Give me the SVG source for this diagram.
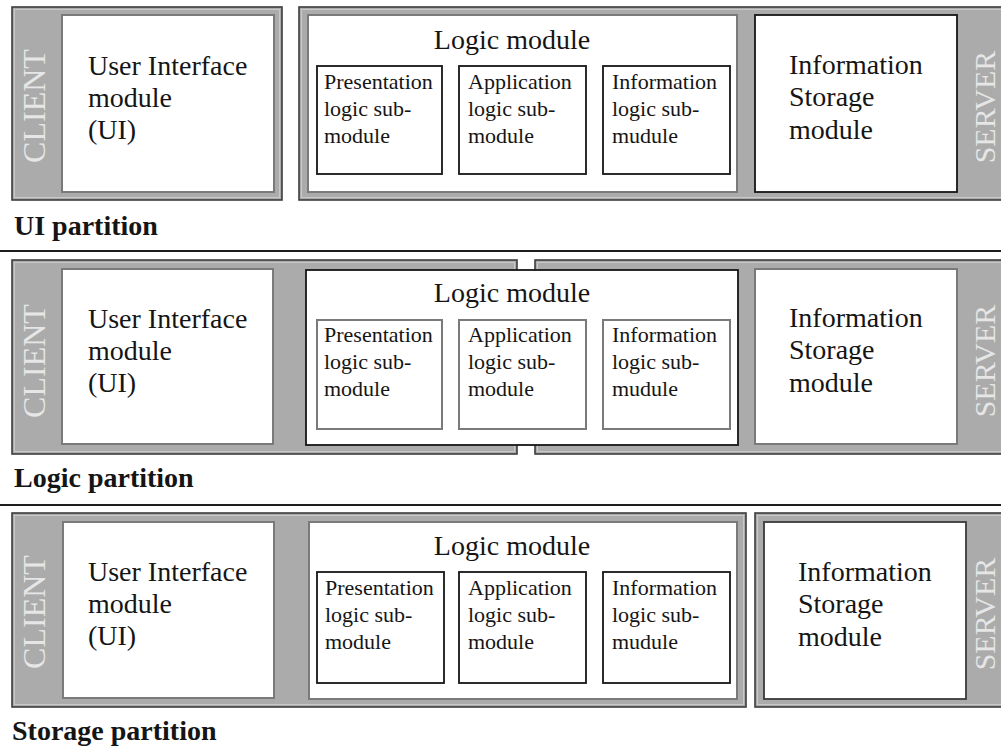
<svg xmlns="http://www.w3.org/2000/svg" width="1001" height="749" viewBox="0 0 1001 749">
  <style>
    .tier { fill: #ababab; stroke: #3c3c3c; stroke-width: 1.6; }
    .tier-hi { fill: none; stroke: #c9c9c9; stroke-width: 1; }
    .box-lt { fill: #ffffff; stroke: #7a7a7a; stroke-width: 2; }
    .box-dk { fill: #ffffff; stroke: #161616; stroke-width: 1.8; }
    .box-md { fill: #ffffff; stroke: #3a3a3a; stroke-width: 1.8; }
    .main { font-family: "Liberation Serif", "Times New Roman", serif; font-size: 28px; fill: #151515; }
    .sub { font-family: "Liberation Serif", "Times New Roman", serif; font-size: 22px; fill: #151515; }
    .side { font-family: "Liberation Serif", "Times New Roman", serif; font-size: 32px; fill: #e6e6e6; text-anchor: middle; }
    .side-r { font-family: "Liberation Serif", "Times New Roman", serif; font-size: 30px; fill: #e6e6e6; text-anchor: middle; }
    .label { font-family: "Liberation Serif", "Times New Roman", serif; font-size: 28px; font-weight: bold; fill: #151515; }
    .rule { stroke: #1e1e1e; stroke-width: 2; }
  </style>

  <!-- ===== UI partition ===== -->
  <g id="ui-partition">
    <g id="p1-client-tier">
      <rect class="tier" x="12" y="7" width="270" height="193"/>
      <rect class="tier-hi" x="14.5" y="9.5" width="265" height="188"/>
      <text class="side" transform="translate(45,106) rotate(-90)">CLIENT</text>
    </g>
    <g id="p1-server-tier">
      <rect class="tier" x="299" y="7" width="704" height="193"/>
      <rect class="tier-hi" x="301.5" y="9.5" width="700" height="188"/>
      <text class="side-r" transform="translate(995,107) rotate(-90)">SERVER</text>
    </g>
    <g id="p1-ui">
      <rect class="box-lt" x="62" y="15" width="212" height="177"/>
      <text class="main"><tspan x="88" y="75">User Interface</tspan><tspan x="88" y="107">module</tspan><tspan x="88" y="139">(UI)</tspan></text>
    </g>
    <g id="p1-logic">
      <rect class="box-lt" x="308" y="15" width="429" height="177"/>
      <text class="main" x="512" y="49" text-anchor="middle">Logic module</text>
    </g>
    <g id="p1-presentation">
      <rect class="box-dk" x="317" y="66" width="125" height="108"/>
      <text class="sub"><tspan x="324" y="89">Presentation</tspan><tspan x="324" y="116">logic sub-</tspan><tspan x="324" y="143">module</tspan></text>
    </g>
    <g id="p1-application">
      <rect class="box-dk" x="459" y="66" width="127" height="108"/>
      <text class="sub"><tspan x="468" y="89">Application</tspan><tspan x="468" y="116">logic sub-</tspan><tspan x="468" y="143">module</tspan></text>
    </g>
    <g id="p1-information">
      <rect class="box-dk" x="603" y="66" width="127" height="108"/>
      <text class="sub"><tspan x="612" y="89">Information</tspan><tspan x="612" y="116">logic sub-</tspan><tspan x="612" y="143">mudule</tspan></text>
    </g>
    <g id="p1-storage">
      <rect class="box-dk" x="755" y="15" width="202" height="177"/>
      <text class="main"><tspan x="789" y="74">Information</tspan><tspan x="789" y="106">Storage</tspan><tspan x="789" y="139">module</tspan></text>
    </g>
    <text class="label" x="14" y="235">UI partition</text>
  </g>

  <!-- ===== Logic partition ===== -->
  <g id="logic-partition">
    <g id="p2-client-tier">
      <rect class="tier" x="12" y="260" width="505" height="194"/>
      <rect class="tier-hi" x="14.5" y="262.5" width="500" height="189"/>
      <text class="side" transform="translate(45,361) rotate(-90)">CLIENT</text>
    </g>
    <g id="p2-server-tier">
      <rect class="tier" x="535" y="260" width="468" height="194"/>
      <rect class="tier-hi" x="537.5" y="262.5" width="464" height="189"/>
      <text class="side-r" transform="translate(995,361) rotate(-90)">SERVER</text>
    </g>
    <g id="p2-ui">
      <rect class="box-lt" x="62" y="269" width="211" height="175"/>
      <text class="main"><tspan x="88" y="328">User Interface</tspan><tspan x="88" y="360">module</tspan><tspan x="88" y="392">(UI)</tspan></text>
    </g>
    <g id="p2-logic">
      <rect class="box-dk" x="306" y="270" width="432" height="175"/>
      <text class="main" x="512" y="302" text-anchor="middle">Logic module</text>
    </g>
    <g id="p2-presentation">
      <rect class="box-lt" x="317" y="320" width="125" height="109"/>
      <text class="sub"><tspan x="324" y="342">Presentation</tspan><tspan x="324" y="369">logic sub-</tspan><tspan x="324" y="396">module</tspan></text>
    </g>
    <g id="p2-application">
      <rect class="box-lt" x="459" y="320" width="127" height="109"/>
      <text class="sub"><tspan x="468" y="342">Application</tspan><tspan x="468" y="369">logic sub-</tspan><tspan x="468" y="396">module</tspan></text>
    </g>
    <g id="p2-information">
      <rect class="box-lt" x="603" y="320" width="127" height="109"/>
      <text class="sub"><tspan x="612" y="342">Information</tspan><tspan x="612" y="369">logic sub-</tspan><tspan x="612" y="396">mudule</tspan></text>
    </g>
    <g id="p2-storage">
      <rect class="box-lt" x="755" y="269" width="202" height="175"/>
      <text class="main"><tspan x="789" y="327">Information</tspan><tspan x="789" y="359">Storage</tspan><tspan x="789" y="392">module</tspan></text>
    </g>
    <text class="label" x="14" y="487">Logic partition</text>
  </g>

  <!-- ===== Storage partition ===== -->
  <g id="storage-partition">
    <g id="p3-client-tier">
      <rect class="tier" x="12" y="513" width="734" height="194"/>
      <rect class="tier-hi" x="14.5" y="515.5" width="729" height="189"/>
      <text class="side" transform="translate(45,612) rotate(-90)">CLIENT</text>
    </g>
    <g id="p3-server-tier">
      <rect class="tier" x="755" y="513" width="248" height="194"/>
      <rect class="tier-hi" x="757.5" y="515.5" width="244" height="189"/>
      <text class="side-r" transform="translate(995,614) rotate(-90)">SERVER</text>
    </g>
    <g id="p3-ui">
      <rect class="box-lt" x="63" y="522" width="211" height="176"/>
      <text class="main"><tspan x="88" y="581">User Interface</tspan><tspan x="88" y="613">module</tspan><tspan x="88" y="645">(UI)</tspan></text>
    </g>
    <g id="p3-logic">
      <rect class="box-lt" x="309" y="522" width="428" height="177"/>
      <text class="main" x="512" y="555" text-anchor="middle">Logic module</text>
    </g>
    <g id="p3-presentation">
      <rect class="box-dk" x="317" y="572" width="127" height="111"/>
      <text class="sub"><tspan x="325" y="595">Presentation</tspan><tspan x="325" y="622">logic sub-</tspan><tspan x="325" y="649">module</tspan></text>
    </g>
    <g id="p3-application">
      <rect class="box-dk" x="459" y="572" width="127" height="111"/>
      <text class="sub"><tspan x="468" y="595">Application</tspan><tspan x="468" y="622">logic sub-</tspan><tspan x="468" y="649">module</tspan></text>
    </g>
    <g id="p3-information">
      <rect class="box-dk" x="603" y="572" width="127" height="111"/>
      <text class="sub"><tspan x="612" y="595">Information</tspan><tspan x="612" y="622">logic sub-</tspan><tspan x="612" y="649">mudule</tspan></text>
    </g>
    <g id="p3-storage">
      <rect class="box-md" x="764" y="522" width="202" height="177"/>
      <text class="main"><tspan x="798" y="581">Information</tspan><tspan x="798" y="613">Storage</tspan><tspan x="798" y="646">module</tspan></text>
    </g>
    <text class="label" x="12" y="740">Storage partition</text>
  </g>

  <!-- partition dividers -->
  <g id="connectors">
    <line class="rule" x1="0" y1="251" x2="1001" y2="251"/>
    <line class="rule" x1="0" y1="505" x2="1001" y2="505"/>
  </g>
</svg>
